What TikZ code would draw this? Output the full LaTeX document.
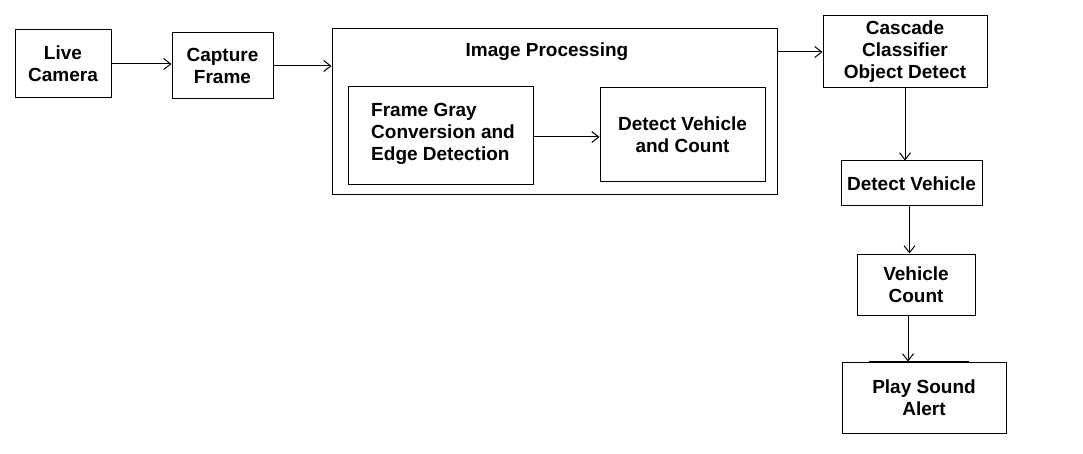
\documentclass[tikz,border=0pt]{standalone}
\usepackage{fontspec}
\setmainfont{Liberation Sans}
\usetikzlibrary{arrows.meta,positioning}

\begin{document}
\begin{tikzpicture}[x=1pt,y=-1pt,
	blk/.style={draw, line width=1pt, inner sep=0pt, align=center,
		font=\bfseries\fontsize{19}{22}\selectfont},
	txt/.style={inner sep=0pt, font=\bfseries\fontsize{19}{22}\selectfont},
	arr/.style={line width=1pt, -{Straight Barb[length=7pt,width=11pt]}}]

	\useasboundingbox (0,0) rectangle (1083,454);

	\node (cam) [blk, minimum width=96, minimum height=68] at (63,64) {Live\\Camera};
	\node (cap) [blk, minimum width=101, minimum height=66] at (222.5,66) {Capture\\Frame};
	\node (ip) [draw, line width=1pt, minimum width=445, minimum height=166] at (554.5,112) {};
	\node (ipt) [txt] at (547,52) {Image Processing};
	\node (fg) [blk, minimum width=185, minimum height=98] at (440.5,136) {};
	\node (fgt) [txt, align=left] at (443,134) {Frame Gray\\Conversion and\\Edge Detection};
	\node (dvc) [blk, minimum width=165, minimum height=94] at (682.5,135) {Detect Vehicle\\and Count};
	\node (cas) [blk, minimum width=164, minimum height=72] at (905,52) {Cascade\\Classifier\\Object Detect};
	\node (dv) [blk, minimum width=141, minimum height=45] at (911.5,183.5) {Detect Vehicle};
	\node (vc) [blk, minimum width=118, minimum height=61] at (916,284.5) {Vehicle\\Count};
	\node (psa) [blk, minimum width=164, minimum height=71] at (924,397.5) {Play Sound\\Alert};

	\draw [arr] (cam.east) -- (cam.east -| cap.west);
	\draw [arr] (cap.east) -- (cap.east -| ip.west);
	\draw [arr] ([yshift=-1pt]fg.east) -- ([yshift=-1pt]fg.east -| dvc.west);
	\draw [arr] (ip.east |- cas.west) -- (cas.west);
	\draw [arr] (cas.south) -- (cas.south |- dv.north);
	\draw [arr] ([xshift=-2pt]dv.south) -- ([xshift=-2pt]dv.south |- vc.north);
	\draw [arr] ([xshift=-8pt]vc.south) -- ([xshift=-8pt]vc.south |- psa.north);
	\draw [line width=2pt] ([xshift=-55pt]psa.north) -- ([xshift=45pt]psa.north);

\end{tikzpicture}
\end{document}
